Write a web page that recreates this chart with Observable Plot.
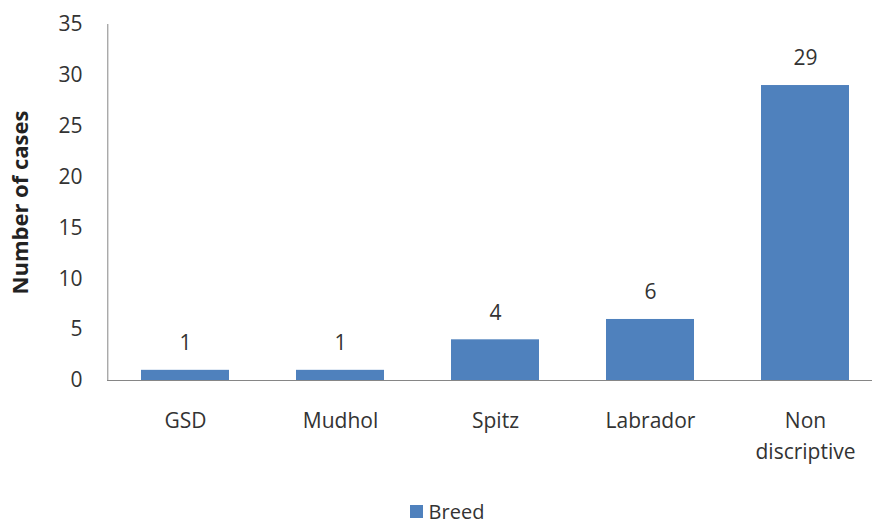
<!DOCTYPE html>
<html>
<head>
<meta charset="utf-8">
<script src="https://cdn.jsdelivr.net/npm/d3@7"></script>
<script src="https://cdn.jsdelivr.net/npm/@observablehq/plot@0.6"></script>
<style>
  body { margin: 0; background: #fff; font-family: "Open Sans", sans-serif; overflow: hidden; }
  #legend { display: flex; justify-content: center; align-items: center; gap: 6px; font-size: 20px; color: #333; margin-top: 8px; padding-left: 22px; }
  #legend .sw { width: 13px; height: 13px; background: #4F81BD; display: inline-block; }
</style>
</head>
<body>
<div id="chart"></div>
<div id="legend"><span class="sw"></span><span>Breed</span></div>
<script>
const categories = ["GSD", "Mudhol", "Spitz", "Labrador", "Non discriptive"];
const values = [1, 1, 4, 6, 29];
const yTicks = [0, 5, 10, 15, 20, 25, 30, 35];
const seriesName = "Breed";

const data = categories.map((c, i) => ({breed: c, cases: values[i]}));

const chart = Plot.plot({
  width: 872,
  height: 490,
  marginTop: 24,
  marginBottom: 110,
  marginLeft: 107,
  marginRight: 0,
  style: {fontFamily: "Open Sans, sans-serif", fontSize: "21px", color: "#333", background: "#fff"},
  x: {domain: categories, range: [107, 884], paddingInner: 0.43, paddingOuter: 0.215, label: null},
  y: {domain: [0, 35], ticks: yTicks, label: null},
  marks: [
    Plot.barY(data, {x: "breed", y: "cases", fill: "#4F81BD"}),
    Plot.text(data, {x: "breed", y: "cases", text: d => String(d.cases), dy: -27, fontSize: 21, fill: "#333"}),
    Plot.axisY({ticks: yTicks, tickSize: 0, tickPadding: 25, fontSize: 21, label: null}),
    Plot.axisX({tickSize: 0, tickPadding: 26, fontSize: 21, label: null, tickFormat: d => d.replace(" ", "\n"), lineHeight: 1.45, textAnchor: "middle"}),
    Plot.ruleX([0], {x: () => categories[0], dx: -77.7, stroke: "#868686"}),
    Plot.ruleY([0], {stroke: "#868686"}),
    Plot.text(["Number of cases"], {frameAnchor: "left", textAnchor: "middle", dx: -87, rotate: -90, fontSize: 22, fontWeight: "bold", fill: "#222", y: 17.5})
  ]
});
document.getElementById("chart").appendChild(chart);
</script>
</body>
</html>
